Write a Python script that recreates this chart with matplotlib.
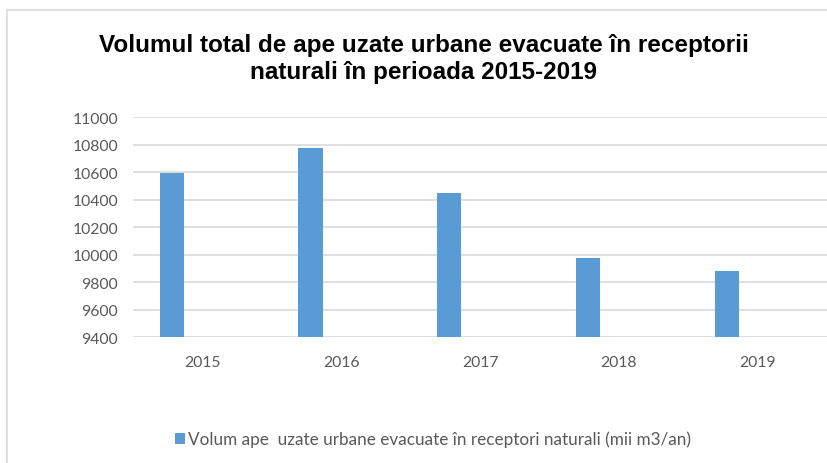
import matplotlib
matplotlib.use("Agg")
import matplotlib.pyplot as plt
from matplotlib.patches import Rectangle
import numpy as np

years = ["2015", "2016", "2017", "2018", "2019"]
volumes = [10592, 10772, 10446, 9972, 9880]
yticks = [9400, 9600, 9800, 10000, 10200, 10400, 10600, 10800, 11000]
title = "Volumul total de ape uzate urbane evacuate în receptorii\nnaturali în perioada 2015-2019"
series_label = "Volum ape  uzate urbane evacuate în receptori naturali (mii m3/an)"

W, H = 828, 464
fig = plt.figure(figsize=(W / 100, H / 100), dpi=100)
fig.patch.set_facecolor("white")

# chart border
fig.add_artist(Rectangle((7 / W, -0.1), 1.2, 1 - 11 / H + 0.1, transform=fig.transFigure,
                         fill=False, edgecolor="#D9D9D9", linewidth=1.2))

left, right = 133.3 / W, 827 / W
bottom, top = 1 - 338 / H, 1 - 118 / H
ax = fig.add_axes([left, bottom, right - left, top - bottom])

x = np.arange(len(years))
ax.bar(x - 0.223, volumes, width=0.175, color="#5B9BD5", label=series_label, zorder=3)
ax.set_xlim(-0.5, len(years) - 0.5)
ax.set_ylim(yticks[0], yticks[-1])
ax.set_yticks(yticks)
ax.set_yticklabels([str(v) for v in yticks])
ax.set_xticks(x)
ax.set_xticklabels(years)
ax.grid(axis="y", color="#D9D9D9", linewidth=1.2, zorder=0)
for s in ax.spines.values():
    s.set_visible(False)
ax.tick_params(axis="both", length=0, colors="#595959", labelsize=11.3)
ax.tick_params(axis="y", pad=11)
ax.tick_params(axis="x", pad=13)
for lab in ax.get_xticklabels() + ax.get_yticklabels():
    lab.set_fontfamily("Lato")
ax.set_facecolor("none")

fig.text(424 / W, 1 - 59 / H, title, ha="center", va="center", fontsize=17.5,
         fontweight="bold", family="Liberation Sans", color="#000000", linespacing=1.2)

leg = fig.legend(loc="center", bbox_to_anchor=(433 / W, 1 - 440 / H), frameon=False,
                 handlelength=0.6, handleheight=0.6, handletextpad=0.15,
                 prop={"family": "Lato", "size": 12.3})
for t in leg.get_texts():
    t.set_color("#595959")

fig.savefig("out.png", dpi=100, facecolor="white")
